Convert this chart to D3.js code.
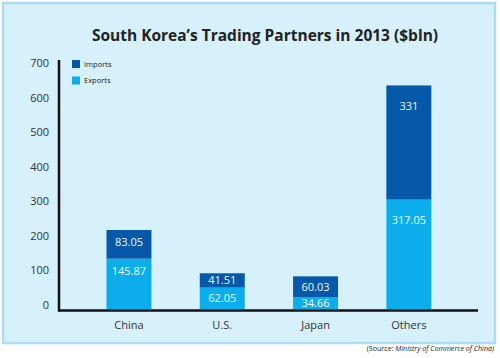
<!DOCTYPE html>
<html><head><meta charset="utf-8">
<script src="https://cdn.jsdelivr.net/npm/d3@7"></script>
<style>body{margin:0;background:#fff}svg{display:block}</style>
</head><body>
<svg id="c" width="500" height="358"></svg>
<script>
const categories = ["China", "U.S.", "Japan", "Others"];
const exportsVals = [145.87, 62.05, 34.66, 317.05];
const importsVals = [83.05, 41.51, 60.03, 331];
const yTicks = [0, 100, 200, 300, 400, 500, 600, 700];
const seriesNames = ["Imports", "Exports"];
const titleText = "South Korea\u2019s Trading Partners in 2013 ($bln)";

const colors = {Imports: "#0658a8", Exports: "#0baeea"};
const svg = d3.select("#c");
const font = "'Open Sans', 'DejaVu Sans', sans-serif";

svg.append("rect").attr("x", 3).attr("y", 3).attr("width", 492).attr("height", 340)
  .attr("fill", "#d6f0fc").attr("stroke", "#aadcf4").attr("stroke-width", 2.5);

svg.append("text").attr("x", 265).attr("y", 41).attr("text-anchor", "middle")
  .attr("font-family", font).attr("font-weight", 700).attr("font-size", 15.5)
  .attr("fill", "#222").text(titleText);

const x = d3.scaleBand().domain(categories).range([82.3, 455.5])
  .paddingInner(0.518).paddingOuter(0.259);
const y = d3.scaleLinear().domain([0, 700]).range([309, 67.5]);

const data = categories.map((c, i) => ({c, Exports: exportsVals[i], Imports: importsVals[i]}));
const stack = d3.stack().keys(["Exports", "Imports"])(data);

const g = svg.append("g");
stack.forEach(layer => {
  g.selectAll(null).data(layer).enter().append("rect")
    .attr("x", d => x(d.data.c)).attr("width", x.bandwidth())
    .attr("y", d => y(d[1])).attr("height", d => y(d[0]) - y(d[1]))
    .attr("fill", colors[layer.key]);
  g.selectAll(null).data(layer).enter().append("text")
    .attr("x", d => x(d.data.c) + x.bandwidth() / 2)
    .attr("y", d => { const h = y(d[0]) - y(d[1]); return y(d[1]) + Math.min(h > 100 ? 21 : 12, h / 2); })
    .attr("dy", "0.35em").attr("text-anchor", "middle")
    .attr("font-family", font).attr("font-size", 11).attr("fill", "#eef6ff")
    .text(d => d.data[layer.key]);
});

// y axis
const yAxis = d3.axisLeft(y).tickValues(yTicks).tickSize(0).tickPadding(10);
const ya = svg.append("g").attr("transform", "translate(59,0)").call(yAxis);
ya.select(".domain").remove();
ya.selectAll("text").attr("font-family", font).attr("font-size", 11).attr("fill", "#333")
  .attr("dy", "-0.05em");
svg.append("line").attr("x1", 59).attr("x2", 59).attr("y1", 60).attr("y2", 311.5)
  .attr("stroke", "#111").attr("stroke-width", 2.5);

// x axis
const xAxis = d3.axisBottom(x).tickSize(0).tickPadding(11);
const xa = svg.append("g").attr("transform", "translate(0,310.5)").call(xAxis);
xa.select(".domain").remove();
xa.selectAll("text").attr("font-family", font).attr("font-size", 11).attr("fill", "#333");
svg.append("line").attr("x1", 58).attr("x2", 478).attr("y1", 310.5).attr("y2", 310.5)
  .attr("stroke", "#111").attr("stroke-width", 2.5);

// legend
const lg = svg.append("g");
seriesNames.forEach((s, i) => {
  lg.append("rect").attr("x", 72).attr("y", 60 + i * 16.5).attr("width", 8).attr("height", 8)
    .attr("fill", colors[s]);
  lg.append("text").attr("x", 84).attr("y", 64 + i * 16.5).attr("dy", "0.35em")
    .attr("font-family", font).attr("font-size", 7.5).attr("fill", "#222").text(s);
});

// source
const src = svg.append("text").attr("x", 494).attr("y", 350.5).attr("text-anchor", "end")
  .attr("font-family", font).attr("font-size", 7.1).attr("fill", "#222");
src.append("tspan").text("(Source: ");
src.append("tspan").attr("font-style", "italic").text("Ministry of Commerce of China)");
</script>
</body></html>
